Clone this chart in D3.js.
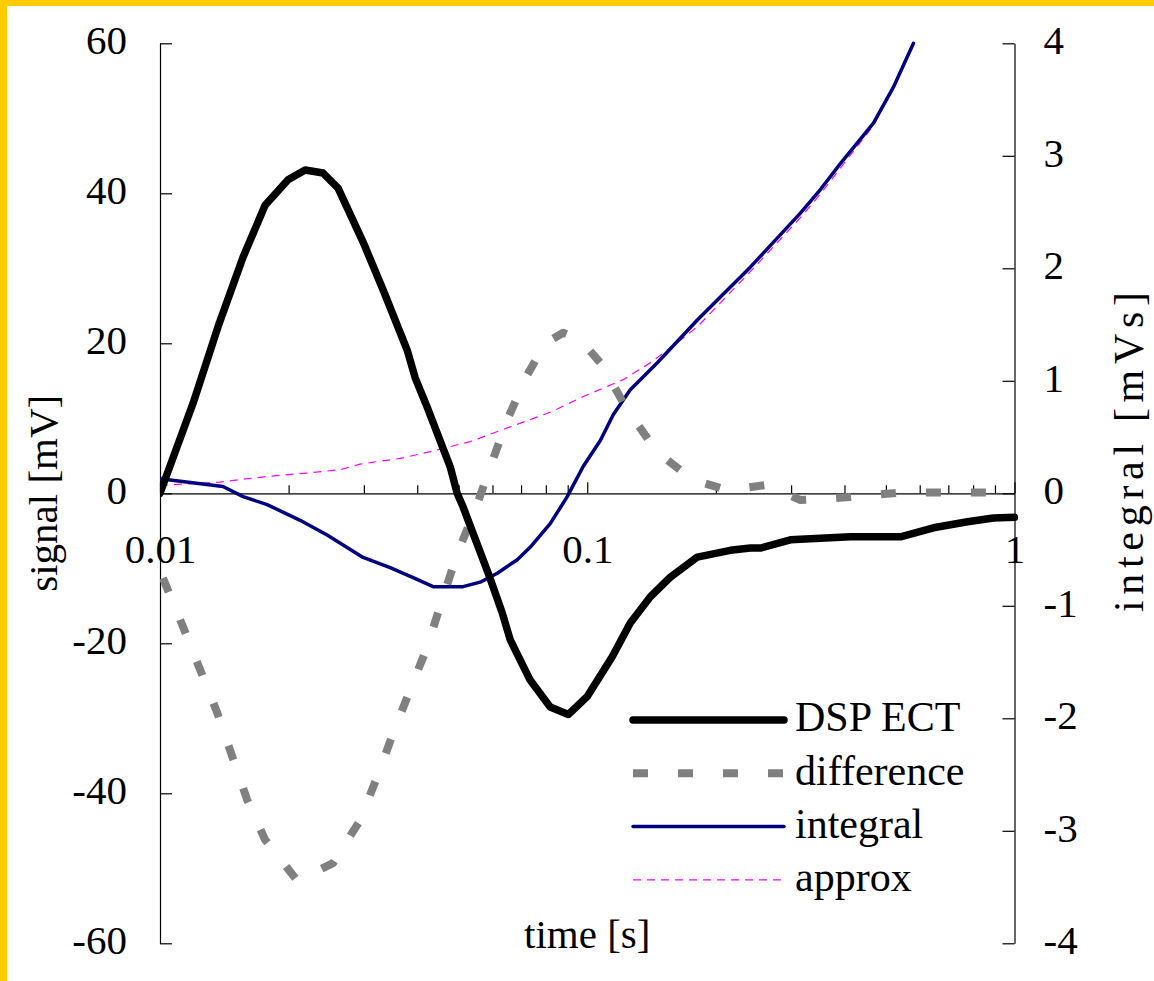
<!DOCTYPE html>
<html>
<head>
<meta charset="utf-8">
<script src="https://cdn.jsdelivr.net/npm/d3@7"></script>
<style>
  html, body { margin: 0; padding: 0; background: #fff; }
  svg { display: block; }
  text { font-family: "Liberation Serif", "Times New Roman", serif; fill: #000; }
</style>
</head>
<body>
<svg id="chart" width="1154" height="981"></svg>
<script>
// --- data (time in s, signal in mV, integral in mVs) ---
const dspEct = [
  [0.01, 0], [0.01195, 12.0], [0.01367, 22.2], [0.01565, 31.5], [0.01762, 38.4],
  [0.01994, 41.8], [0.02186, 43.1], [0.02408, 42.7], [0.02611, 40.7], [0.02988, 33.5],
  [0.03329, 27.1], [0.03789, 19.1], [0.03956, 15.4], [0.0422, 11.5], [0.0478, 3.5],
  [0.0496, 0], [0.0512, -1.8], [0.0586, -10.6], [0.0632, -15.9], [0.066, -19.5],
  [0.0735, -24.9], [0.0819, -28.5], [0.0903, -29.5], [0.1, -27.1], [0.1144, -21.8],
  [0.1261, -17.3], [0.1405, -13.8], [0.1564, -11.2], [0.181, -8.5], [0.2162, -7.6],
  [0.2408, -7.3], [0.2543, -7.3], [0.2988, -6.2], [0.413, -5.8], [0.5408, -5.8],
  [0.6461, -4.6], [0.7762, -3.8], [0.893, -3.3], [1.0, -3.2]
];

const difference = [
  [0.01016, -11.3], [0.01132, -17.8], [0.01241, -23.5], [0.0136, -29.2], [0.01474, -35.0],
  [0.01598, -40.8], [0.01762, -46.2], [0.02093, -51.6], [0.02542, -49.3], [0.0294, -43.6],
  [0.03223, -37.8], [0.03513, -32.0], [0.03851, -26.2], [0.0422, -20.5], [0.04575, -14.2],
  [0.0496, -8.1], [0.05467, -2.2], [0.05929, 3.5], [0.06496, 9.8], [0.07237, 15.8],
  [0.07973, 20.0], [0.08787, 21.4], [0.0963, 20.5], [0.1084, 17.1], [0.1241, 11.1],
  [0.1459, 5.5], [0.1762, 1.8], [0.2138, 0.4], [0.2612, 1.1], [0.3154, -0.9],
  [0.413, -0.5], [0.5408, 0.1], [0.708, 0.1], [0.927, 0.1], [1.0, 0.2]
];

const integral = [
  [0.01, 0.13], [0.01404, 0.06], [0.01565, -0.03], [0.01781, -0.10], [0.02128, -0.24],
  [0.02461, -0.37], [0.02988, -0.57], [0.03456, -0.66], [0.03913, -0.75], [0.04358, -0.83],
  [0.0512, -0.83], [0.05616, -0.79], [0.06157, -0.71], [0.06858, -0.59], [0.0735, -0.48],
  [0.0819, -0.27], [0.08978, -0.03], [0.0979, 0.24], [0.1073, 0.47], [0.1151, 0.70],
  [0.1261, 0.92], [0.1459, 1.16], [0.181, 1.54], [0.2408, 2.01], [0.2756, 2.25],
  [0.3154, 2.49], [0.3513, 2.70], [0.3912, 2.93], [0.4676, 3.29], [0.5207, 3.61],
  [0.5801, 4.0]
];

const approx = [
  [0.01, 0.07], [0.01382, 0.10], [0.01781, 0.15], [0.0221, 0.18], [0.02641, 0.21],
  [0.0294, 0.26], [0.03648, 0.31], [0.0429, 0.37], [0.05321, 0.46], [0.066, 0.59],
  [0.0819, 0.72], [0.0979, 0.86], [0.1214, 1.01], [0.1405, 1.16], [0.1651, 1.36],
  [0.181, 1.48], [0.2408, 1.97], [0.2756, 2.21], [0.3154, 2.45], [0.3513, 2.66],
  [0.3912, 2.89], [0.4676, 3.27], [0.5207, 3.60], [0.5801, 4.0]
];

const xLabelTicks = [0.01, 0.1, 1];
const leftTicks = [-60, -40, -20, 0, 20, 40, 60];
const rightTicks = [-4, -3, -2, -1, 0, 1, 2, 3, 4];
const legendLabels = ["DSP ECT", "difference", "integral", "approx"];

// --- layout ---
const svg = d3.select("#chart");
const plot = { left: 160, right: 1014.5, top: 43.3, bottom: 943.3 };
const fontSize = "41px";

// frame strips (left and top only)
svg.append("rect").attr("x", 0).attr("y", 0).attr("width", 1154).attr("height", 6).attr("fill", "#ffcc00");
svg.append("rect").attr("x", 0).attr("y", 0).attr("width", 7).attr("height", 981).attr("fill", "#ffcc00");

const x = d3.scaleLog().domain([0.01, 1]).range([plot.left, plot.right]);
const yL = d3.scaleLinear().domain([-60, 60]).range([plot.bottom, plot.top]);
const yR = d3.scaleLinear().domain([-4, 4]).range([plot.bottom, plot.top]);

svg.append("defs").append("clipPath").attr("id", "plot-clip")
  .append("rect")
  .attr("x", plot.left).attr("y", plot.top - 4)
  .attr("width", plot.right - plot.left + 4).attr("height", plot.bottom - plot.top + 8);

// --- axes (ticks point into the plot, plain hyphen minus like the original) ---
const plain = d => String(d);

const leftAxis = svg.append("g")
  .attr("transform", `translate(${plot.left},0)`)
  .call(d3.axisLeft(yL).tickValues(leftTicks).tickFormat(plain)
    .tickSizeInner(-12).tickSizeOuter(0).tickPadding(33));

const rightAxis = svg.append("g")
  .attr("transform", `translate(${plot.right},0)`)
  .call(d3.axisRight(yR).tickValues(rightTicks).tickFormat(plain)
    .tickSizeInner(-12).tickSizeOuter(0).tickPadding(29));

const xAxis = svg.append("g")
  .attr("transform", `translate(0,${yL(0)})`)
  .call(d3.axisBottom(x).tickValues(x.ticks()).tickSizeInner(-8).tickSizeOuter(0).tickPadding(41)
    .tickFormat(d => xLabelTicks.includes(d) ? plain(d) : ""));

xAxis.selectAll(".tick").filter(d => xLabelTicks.includes(d)).select("line").attr("y2", -11);

[leftAxis, rightAxis, xAxis].forEach(a => {
  a.selectAll("path.domain").attr("stroke", "#000").attr("stroke-width", 1.2);
  a.selectAll(".tick line").attr("stroke", "#000").attr("stroke-width", 1.2);
  a.selectAll(".tick text")
    .style("font-family", '"Liberation Serif", "Times New Roman", serif')
    .style("font-size", fontSize).attr("fill", "#000");
});
leftAxis.selectAll(".tick text").attr("dy", "0.25em");
rightAxis.selectAll(".tick text").attr("dy", "0.25em");

// --- series ---
const series = [
  { data: dspEct, y: yL, color: "#000000", width: 7.5, dash: null, cap: "round" },
  { data: difference, y: yL, color: "#808080", width: 8, dash: "15,30", cap: "butt" },
  { data: integral, y: yR, color: "#000080", width: 3.5, dash: null, cap: "round" },
  { data: approx, y: yR, color: "#ff00ff", width: 1.2, dash: "8,6", cap: "butt" }
];

const lines = svg.append("g").attr("clip-path", "url(#plot-clip)");
[series[3], series[2], series[1], series[0]].forEach(s => {
  lines.append("path")
    .datum(s.data)
    .attr("fill", "none")
    .attr("stroke", s.color)
    .attr("stroke-width", s.width)
    .attr("stroke-dasharray", s.dash)
    .attr("stroke-linecap", s.cap)
    .attr("stroke-linejoin", "round")
    .attr("d", d3.line().x(d => x(d[0])).y(d => s.y(d[1])));
});

// --- legend ---
const legend = svg.append("g").attr("transform", "translate(633,720)");
legendLabels.forEach((label, i) => {
  const s = series[i];
  const row = legend.append("g").attr("transform", `translate(0,${i * 53.3})`);
  row.append("line")
    .attr("x1", 0).attr("x2", 151)
    .attr("stroke", s.color).attr("stroke-width", s.width)
    .attr("stroke-dasharray", s.dash).attr("stroke-linecap", s.cap);
  row.append("text").attr("x", 162).attr("dy", "0.27em")
    .style("font-size", "42px").text(label);
});

// --- axis titles ---
svg.append("text")
  .attr("transform", `translate(57,${(plot.top + plot.bottom) / 2}) rotate(-90)`)
  .attr("text-anchor", "middle").style("font-size", fontSize).text("signal [mV]");

svg.append("text")
  .attr("transform", "translate(1143,452) rotate(-90)")
  .attr("text-anchor", "middle").style("font-size", "42px")
  .attr("textLength", 320).attr("lengthAdjust", "spacing")
  .text("integral [mVs]");

svg.append("text")
  .attr("x", (plot.left + plot.right) / 2).attr("y", 948)
  .attr("text-anchor", "middle").style("font-size", fontSize).text("time [s]");
</script>
</body>
</html>
